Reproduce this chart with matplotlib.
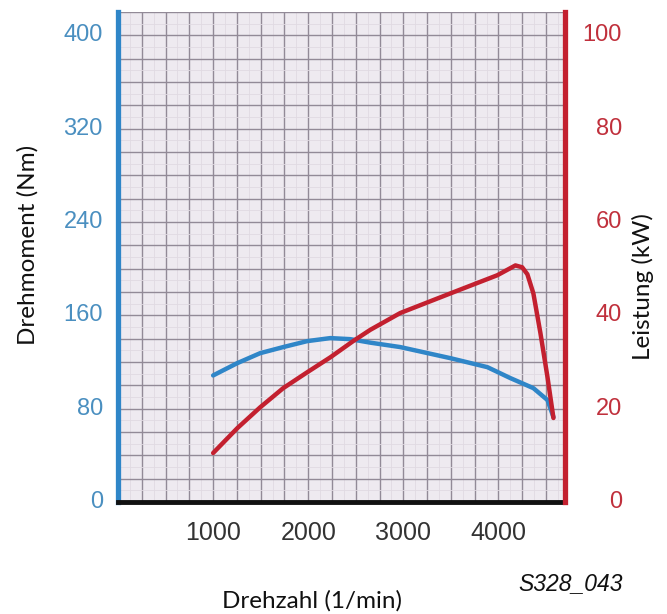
import numpy as np
import matplotlib
matplotlib.use('Agg')
import matplotlib.pyplot as plt
from matplotlib.ticker import MultipleLocator
from matplotlib.transforms import blended_transform_factory

# torque curve (Nm) over engine speed (1/min)
rpm_torque = [1000, 1253, 1495, 1737, 1989, 2232, 2442, 2653, 2968, 3495,
              3884, 4126, 4368, 4516, 4579]
torque_nm = [108.5, 119.0, 127.6, 132.8, 137.9, 140.5, 139.6, 136.6, 132.8,
             123.3, 115.6, 106.2, 97.6, 87.4, 72.8]

# power curve (kW) over engine speed (1/min)
rpm_power = [1000, 1253, 1495, 1737, 1989, 2232, 2474, 2653, 2968, 3495,
             3989, 4179, 4250, 4305, 4368, 4442, 4516, 4579]
power_kw = [10.5, 15.8, 20.3, 24.4, 27.8, 31.0, 34.5, 36.9, 40.5, 44.7,
            48.6, 50.7, 50.3, 48.8, 44.7, 36.2, 26.8, 18.0]

x_ticks = [1000, 2000, 3000, 4000]
torque_ticks = [0, 80, 160, 240, 320, 400]
power_ticks = [0, 20, 40, 60, 80, 100]

BLUE = '#2f86c8'
RED = '#c3202f'
TICK_BLUE = '#4a8fc0'
TICK_RED = '#c0303c'

fig = plt.figure(figsize=(6.67, 6.14), dpi=100)
ax1 = fig.add_axes([0.177, 0.1824, 0.670, 0.798])
ax1.set_facecolor('#eeeaf0')
ax2 = ax1.twinx()

ax1.set_xlim(0, 4700)
ax1.set_ylim(0, 420)
ax2.set_ylim(0, 105)

# graph paper grid
ax1.xaxis.set_major_locator(MultipleLocator(250))
ax1.xaxis.set_minor_locator(MultipleLocator(125))
ax1.yaxis.set_major_locator(MultipleLocator(20))
ax1.yaxis.set_minor_locator(MultipleLocator(10))
ax1.grid(which='major', color='#928a97', lw=1.0)
ax1.grid(which='minor', color='#e0dae2', lw=0.6)
ax1.set_axisbelow(True)
ax1.tick_params(which='both', length=0, labelbottom=False, labelleft=False)
ax2.tick_params(length=0, labelright=False)

ax1.plot(rpm_torque, torque_nm, color=BLUE, lw=3.2, solid_capstyle='round',
         solid_joinstyle='round', zorder=3)
ax2.plot(rpm_power, power_kw, color=RED, lw=3.2, solid_capstyle='round',
         solid_joinstyle='round', zorder=3)

ax1.spines['top'].set_visible(False)
ax2.spines['top'].set_visible(False)
ax2.spines['left'].set_visible(False)
ax2.spines['bottom'].set_visible(False)
ax1.spines['right'].set_visible(False)
ax1.spines['left'].set_color(BLUE)
ax1.spines['left'].set_linewidth(3.8)
ax2.spines['right'].set_color(RED)
ax2.spines['right'].set_linewidth(3.8)
ax1.spines['bottom'].set_color('#111111')
ax1.spines['bottom'].set_linewidth(3.5)

# tick labels placed as text so the grid can keep its own locators
tick_font = dict(family='Liberation Sans', fontsize=17)
left_tr = blended_transform_factory(ax1.transAxes, ax1.transData)
right_tr = blended_transform_factory(ax2.transAxes, ax2.transData)
bottom_tr = blended_transform_factory(ax1.transData, ax1.transAxes)
for v in torque_ticks:
    ax1.text(-0.034, v, str(v), ha='right', va='center', color=TICK_BLUE,
             transform=left_tr, **tick_font)
for v in power_ticks:
    ax2.text(1.1275, v, str(v), ha='right', va='center', color=TICK_RED,
             transform=right_tr, **tick_font)
for v in x_ticks:
    ax1.text(v, -0.063, str(v), ha='center', va='center', color='#333333',
             transform=bottom_tr, family='Liberation Sans', fontsize=18)

label_font = dict(family='Lato', fontsize=17.5, color='#111111')
fig.text(0.042, 0.601, 'Drehmoment (Nm)', rotation=90, ha='center', va='center', **label_font)
fig.text(0.964, 0.533, 'Leistung (kW)', rotation=90, ha='center', va='center', **label_font)
fig.text(0.468, 0.022, 'Drehzahl (1/min)', ha='center', va='center', **label_font)
fig.text(0.856, 0.050, 'S328_043', ha='center', va='center', style='italic',
         family='Liberation Sans', fontsize=16.5, color='#111111')

fig.savefig('out.png', dpi=100)
